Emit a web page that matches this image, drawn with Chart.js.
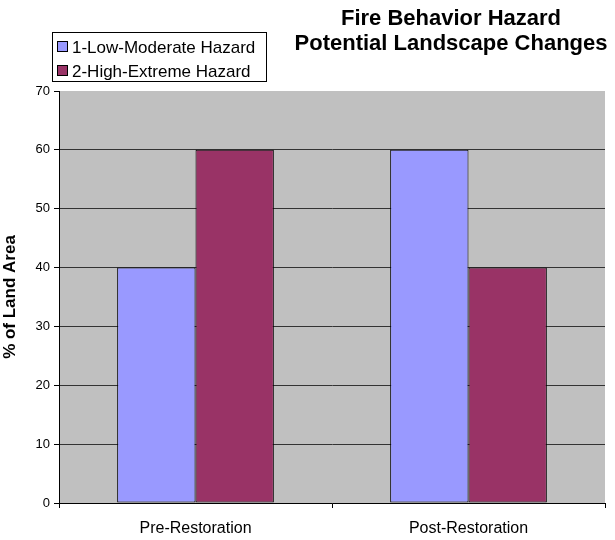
<!DOCTYPE html>
<html>
<head>
<meta charset="utf-8">
<script src="https://cdn.jsdelivr.net/npm/chart.js@4/dist/chart.umd.min.js"></script>
<style>
  html, body { margin: 0; padding: 0; background: #fff; }
  #wrap { width: 615px; height: 540px; }
</style>
</head>
<body>
<div id="wrap"><canvas id="hazardChart" width="615" height="540"></canvas></div>
<script>
const categories = ['Pre-Restoration', 'Post-Restoration'];
const lowModerate = [40, 60];
const highExtreme = [60, 40];
const seriesNames = ['1-Low-Moderate Hazard', '2-High-Extreme Hazard'];
const titleLines = ['Fire Behavior Hazard', 'Potential Landscape Changes'];
const yAxisTitle = '% of Land Area';

Chart.defaults.font.family = '"Liberation Sans", Arial, sans-serif';
Chart.defaults.color = '#000';

// gray plot area, title at top right, boxed legend top left
const excelLook = {
  id: 'excelLook',
  beforeDraw(chart) {
    const { ctx, chartArea: a } = chart;
    ctx.save();
    ctx.fillStyle = '#c0c0c0';
    ctx.fillRect(a.left, a.top, a.right - a.left, a.bottom - a.top);
    ctx.restore();
  },
  afterDraw(chart) {
    const ctx = chart.ctx;
    ctx.save();
    ctx.fillStyle = '#000';
    ctx.textAlign = 'center';
    ctx.textBaseline = 'alphabetic';
    ctx.font = 'bold 22px "Liberation Sans", Arial, sans-serif';
    ctx.fillText(titleLines[0], 451, 25);
    ctx.fillText(titleLines[1], 451, 50);

    // legend
    ctx.strokeStyle = '#000';
    ctx.lineWidth = 1;
    ctx.strokeRect(52.5, 32.5, 214, 49);
    ctx.font = '17px "Liberation Sans", Arial, sans-serif';
    ctx.textAlign = 'left';
    chart.data.datasets.forEach((ds, i) => {
      const y = 47 + i * 24;
      ctx.fillStyle = ds.backgroundColor;
      ctx.fillRect(57.5, y - 5.5, 10, 10);
      ctx.strokeRect(57.5, y - 5.5, 10, 10);
      ctx.fillStyle = '#000';
      ctx.fillText(ds.label, 72, y + 6);
    });
    ctx.restore();
  }
};

new Chart(document.getElementById('hazardChart'), {
  type: 'bar',
  data: {
    labels: categories,
    datasets: [
      {
        label: seriesNames[0],
        data: lowModerate,
        backgroundColor: '#9999ff',
        borderColor: '#000',
        borderWidth: 1,
        borderSkipped: false
      },
      {
        label: seriesNames[1],
        data: highExtreme,
        backgroundColor: '#993366',
        borderColor: '#000',
        borderWidth: 1,
        borderSkipped: false
      }
    ]
  },
  options: {
    responsive: false,
    animation: false,
    layout: { padding: { top: 91, right: 10, left: 0, bottom: 0 } },
    datasets: { bar: { categoryPercentage: 0.574, barPercentage: 1.0 } },
    plugins: {
      legend: { display: false },
      title: { display: false },
      tooltip: { enabled: false }
    },
    scales: {
      x: {
        grid: {
          offset: true,
          drawOnChartArea: false,
          drawTicks: true,
          tickLength: 5,
          color: '#000'
        },
        border: { color: '#000', width: 1 },
        ticks: { font: { size: 16 }, padding: 11, color: '#000' },
        afterFit(scale) { scale.height = 37; }
      },
      y: {
        min: 0,
        max: 70,
        ticks: { stepSize: 10, font: { size: 13 }, padding: 4, color: '#000' },
        grid: {
          color: ctx => (ctx.tick && ctx.tick.value === 70) ? 'rgba(0,0,0,0)' : '#333',
          tickColor: '#000',
          tickLength: 5
        },
        border: { color: '#000', width: 1 },
        title: {
          display: true,
          text: yAxisTitle,
          font: { size: 17, weight: 'bold' },
          padding: { top: 0, bottom: 0 },
          color: '#000'
        },
        afterFit(scale) { scale.width = 59; }
      }
    }
  },
  plugins: [excelLook]
});
</script>
</body>
</html>
